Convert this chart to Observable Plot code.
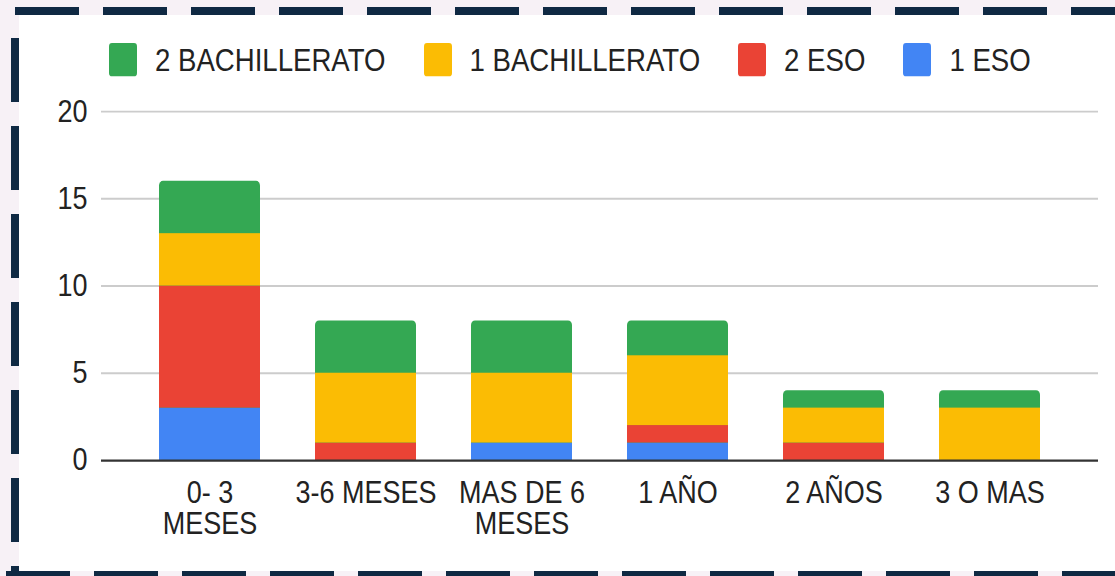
<!DOCTYPE html>
<html>
<head>
<meta charset="utf-8">
<script src="https://cdn.jsdelivr.net/npm/d3@7"></script>
<script src="https://cdn.jsdelivr.net/npm/@observablehq/plot@0.6"></script>
<style>
  html, body { margin: 0; padding: 0; }
  body { width: 1115px; height: 576px; overflow: hidden; background: #f7f1f6; position: relative;
         font-family: "Liberation Sans", Arial, sans-serif; }
  #card { position: absolute; left: 19px; top: 15px; right: 0; bottom: 5px; background: #ffffff; }
  .dash-h { position: absolute; height: 8px;
            background: repeating-linear-gradient(to right, #0f2943 0 64px, transparent 64px 88px); }
  .dash-v { position: absolute; width: 8px;
            background: repeating-linear-gradient(to bottom, #0f2943 0 64px, transparent 64px 88px); }
  #legend { position: absolute; left: 109px; top: 43px; display: flex; align-items: center;
            transform: scaleY(1.15); transform-origin: 0 0; }
  .sw { width: 28px; height: 29px; border-radius: 3px; margin-right: 18px; }
  .lt { font-size: 27.6px; line-height: 29px; color: #222; margin-right: 38px; white-space: nowrap; }
  #chart { position: absolute; left: 0; top: 80px; transform: scaleY(1.15); transform-origin: 0 0; }
</style>
</head>
<body>
<div id="card"></div>
<div class="dash-h" style="left:15px; top:7px; width:1100px;"></div>
<div class="dash-v" style="left:11px; top:38px; height:538px;"></div>
<div class="dash-h" style="left:6px; top:571px; width:1109px;"></div>
<div id="legend"></div>
<div id="chart"></div>
<script>
// ---- data ----
const categories = ["0- 3\nMESES", "3-6 MESES", "MAS DE 6\nMESES", "1 AÑO", "2 AÑOS", "3 O MAS"];
const seriesNames = ["2 BACHILLERATO", "1 BACHILLERATO", "2 ESO", "1 ESO"];
const seriesColors = ["#34a853", "#fbbc04", "#ea4335", "#4285f4"];
const eso1  = [3, 0, 1, 1, 0, 0];   // 1 ESO
const eso2  = [7, 1, 0, 1, 1, 0];   // 2 ESO
const bach1 = [3, 4, 4, 4, 2, 3];   // 1 BACHILLERATO
const bach2 = [3, 3, 3, 2, 1, 1];   // 2 BACHILLERATO
const yTicks = [0, 5, 10, 15, 20];

// ---- legend ----
const legend = document.getElementById("legend");
seriesNames.forEach((name, i) => {
  const sw = document.createElement("div");
  sw.className = "sw";
  sw.style.background = seriesColors[i];
  const t = document.createElement("div");
  t.className = "lt";
  t.textContent = name;
  legend.appendChild(sw);
  legend.appendChild(t);
});

// ---- tables for the marks ----
const lower = [];
[["1 ESO", eso1], ["2 ESO", eso2], ["1 BACHILLERATO", bach1]].forEach(([name, vals]) => {
  categories.forEach((c, i) => lower.push({cat: c, series: name, value: vals[i]}));
});
const totals = categories.map((c, i) => ({
  cat: c, series: "2 BACHILLERATO",
  value: eso1[i] + eso2[i] + bach1[i] + bach2[i]
}));

const H = 418;
const chart = Plot.plot({
  width: 1115,
  height: H,
  marginLeft: 101,
  marginRight: 17,
  marginTop: 27,
  marginBottom: H - 330.4,
  style: {fontFamily: "'Liberation Sans', Arial, sans-serif", fontSize: "27px", color: "#222", background: "transparent"},
  x: {domain: categories, paddingInner: 0.355, paddingOuter: 0.364, axis: null},
  y: {domain: [0, 20], axis: null},
  color: {domain: seriesNames, range: seriesColors},
  marks: [
    Plot.ruleY(yTicks.filter(t => t > 0), {stroke: "#cccccc", strokeWidth: 1.7}),
    Plot.axisY({ticks: yTicks, tickSize: 0, tickPadding: 14, fontSize: 27, fill: "#222", label: null}),
    Plot.barY(totals, {x: "cat", y: "value", fill: "series", rx: 4}),
    Plot.barY(lower, {x: "cat", y: "value", fill: "series"}),
    Plot.ruleY([0], {stroke: "#333333", strokeWidth: 2}),
    Plot.text(categories, {x: d => d, frameAnchor: "bottom", lineAnchor: "top", dy: 18,
                           lineHeight: 1.0, fontSize: 27, fill: "#222"})
  ]
});
document.getElementById("chart").appendChild(chart);
</script>
</body>
</html>
